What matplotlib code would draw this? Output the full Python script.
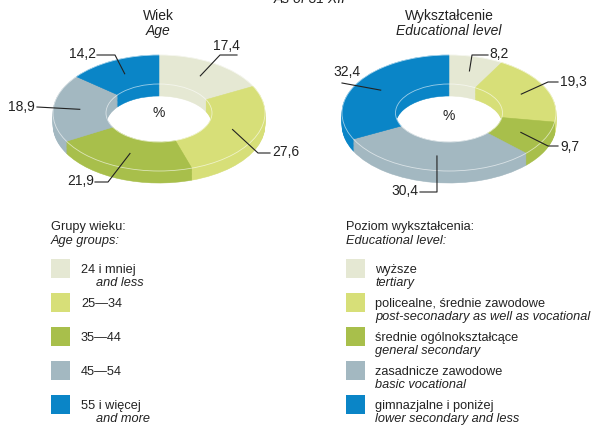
"""
Two tilted donut charts: population by age group and by educational level
"""
import numpy as np
import matplotlib
matplotlib.use("Agg")
import matplotlib.pyplot as plt
from matplotlib.patches import Ellipse, Rectangle

plt.rcParams['font.family'] = ['Liberation Sans', 'DejaVu Sans']
plt.rcParams['font.size'] = 9.2

# data
age_values = [17.4, 27.6, 21.9, 18.9, 14.2]
age_labels = ['17,4', '27,6', '21,9', '18,9', '14,2']
age_pl = ['24 i mniej', '25\u201434', '35\u201444', '45\u201454', '55 i więcej']
age_en = ['and less', '', '', '', 'and more']

edu_values = [8.2, 19.3, 9.7, 30.4, 32.4]
edu_labels = ['8,2', '19,3', '9,7', '30,4', '32,4']
edu_pl = ['wyższe', 'policealne, średnie zawodowe', 'średnie ogólnokształcące',
          'zasadnicze zawodowe', 'gimnazjalne i poniżej']
edu_en = ['tertiary', 'post-seconadary as well as vocational', 'general secondary',
          'basic vocational', 'lower secondary and less']

colors = ['#e5e8d3', '#d7df78', '#a8bf4b', '#a3b8c1', '#0a85c7']
ink = '#222222'

W, H = 600, 426
fig = plt.figure(figsize=(W / 100, H / 100), dpi=100)

# overlay in pixel coordinates (y down) for texts, leaders and legend
ov = fig.add_axes([0, 0, 1, 1], zorder=5)
ov.set_xlim(0, W)
ov.set_ylim(H, 0)
ov.axis('off')
ov.patch.set_alpha(0)


def donut(cx, cy, a, b, values, thick=12):
    left, top = cx - 1.3 * a, cy - 1.3 * b
    ax = fig.add_axes([left / W, (H - (top + 2.9 * b)) / H, 2.6 * a / W, 2.9 * b / H])
    t = thick / b
    for k in np.linspace(t, 0, 16):
        wedges, _ = ax.pie(values, colors=colors, radius=1, center=(0, -k),
                           startangle=90, counterclock=False,
                           wedgeprops=dict(width=0.5, linewidth=0.4))
        for w in wedges:
            w.set_edgecolor(w.get_facecolor())
    ax.add_patch(Ellipse((0, 0), 2, 2, fill=False, ec='white', lw=0.6, alpha=0.6))
    ax.add_patch(Ellipse((0, 0), 1, 1, fill=False, ec='white', lw=0.6, alpha=0.6))
    ax.set_aspect('auto')
    ax.set_xlim(-1.3, 1.3)
    ax.set_ylim(-1.6, 1.3)
    ax.axis('off')
    return ax


def to_px(ax, x, y):
    return ov.transData.inverted().transform(ax.transData.transform((x, y)))


def leaders(ax, values, labels, layout):
    cum = np.cumsum([0] + values)
    for i, lab in enumerate(labels):
        mid = np.deg2rad(90 - 3.6 * (cum[i] + values[i] / 2))
        sx, sy = to_px(ax, 0.75 * np.cos(mid), 0.75 * np.sin(mid))
        (ex, ey), (hx, hy), (tx, ty, ha) = layout[i]
        ov.plot([sx, ex, hx], [sy, ey, hy], color=ink, lw=0.8)
        ov.text(tx, ty, lab, ha=ha, va='center', fontsize=10, color=ink)


ax1 = donut(159, 113, 106, 58, age_values)
ax2 = donut(449, 113, 107, 58, edu_values)

leaders(ax1, age_values, age_labels, [
    ((220, 55), (237, 55), (226, 46, 'center')),
    ((258, 153), (270, 153), (272, 152, 'left')),
    ((108, 182), (95, 182), (94, 181, 'right')),
    ((37, 107), (37, 107), (35, 107, 'right')),
    ((115, 55), (97, 55), (96, 54, 'right')),
])
leaders(ax2, edu_values, edu_labels, [
    ((472, 55), (488, 55), (489, 54, 'left')),
    ((548, 82), (558, 82), (560, 82, 'left')),
    ((548, 146), (558, 146), (560, 147, 'left')),
    ((437, 192), (420, 192), (418, 191, 'right')),
    ((342, 83), (342, 83), (347, 72, 'center')),
])

ov.text(159, 113, '%', ha='center', va='center', fontsize=10, color=ink)
ov.text(449, 116, '%', ha='center', va='center', fontsize=10, color=ink)

# titles
ov.text(310, 6, 'As of 31 XII', ha='center', va='bottom', style='italic', fontsize=10, color=ink)
ov.text(158, 16, 'Wiek', ha='center', va='center', fontsize=10, color=ink)
ov.text(158, 31, 'Age', ha='center', va='center', style='italic', fontsize=10, color=ink)
ov.text(449, 16, 'Wykształcenie', ha='center', va='center', fontsize=10, color=ink)
ov.text(449, 31, 'Educational level', ha='center', va='center', style='italic', fontsize=10, color=ink)

# legends
ov.text(51, 227, 'Grupy wieku:', ha='left', va='center', color=ink)
ov.text(51, 241, 'Age groups:', ha='left', va='center', style='italic', color=ink)
for i in range(len(age_pl)):
    y0 = 259 + 34 * i
    ov.add_patch(Rectangle((51, y0), 19, 19, color=colors[i], lw=0))
    ov.text(81, y0 + 11, age_pl[i], ha='left', va='center', color=ink)
    if age_en[i]:
        ov.text(96, y0 + 24, age_en[i], ha='left', va='center', style='italic', color=ink)

ov.text(346, 227, 'Poziom wykształcenia:', ha='left', va='center', color=ink)
ov.text(346, 241, 'Educational level:', ha='left', va='center', style='italic', color=ink)
for i in range(len(edu_pl)):
    y0 = 259 + 34 * i
    ov.add_patch(Rectangle((346, y0), 19, 19, color=colors[i], lw=0))
    ov.text(375, y0 + 11, edu_pl[i], ha='left', va='center', color=ink)
    ov.text(375, y0 + 24, edu_en[i], ha='left', va='center', style='italic', color=ink)

fig.savefig('out.png', dpi=100)
